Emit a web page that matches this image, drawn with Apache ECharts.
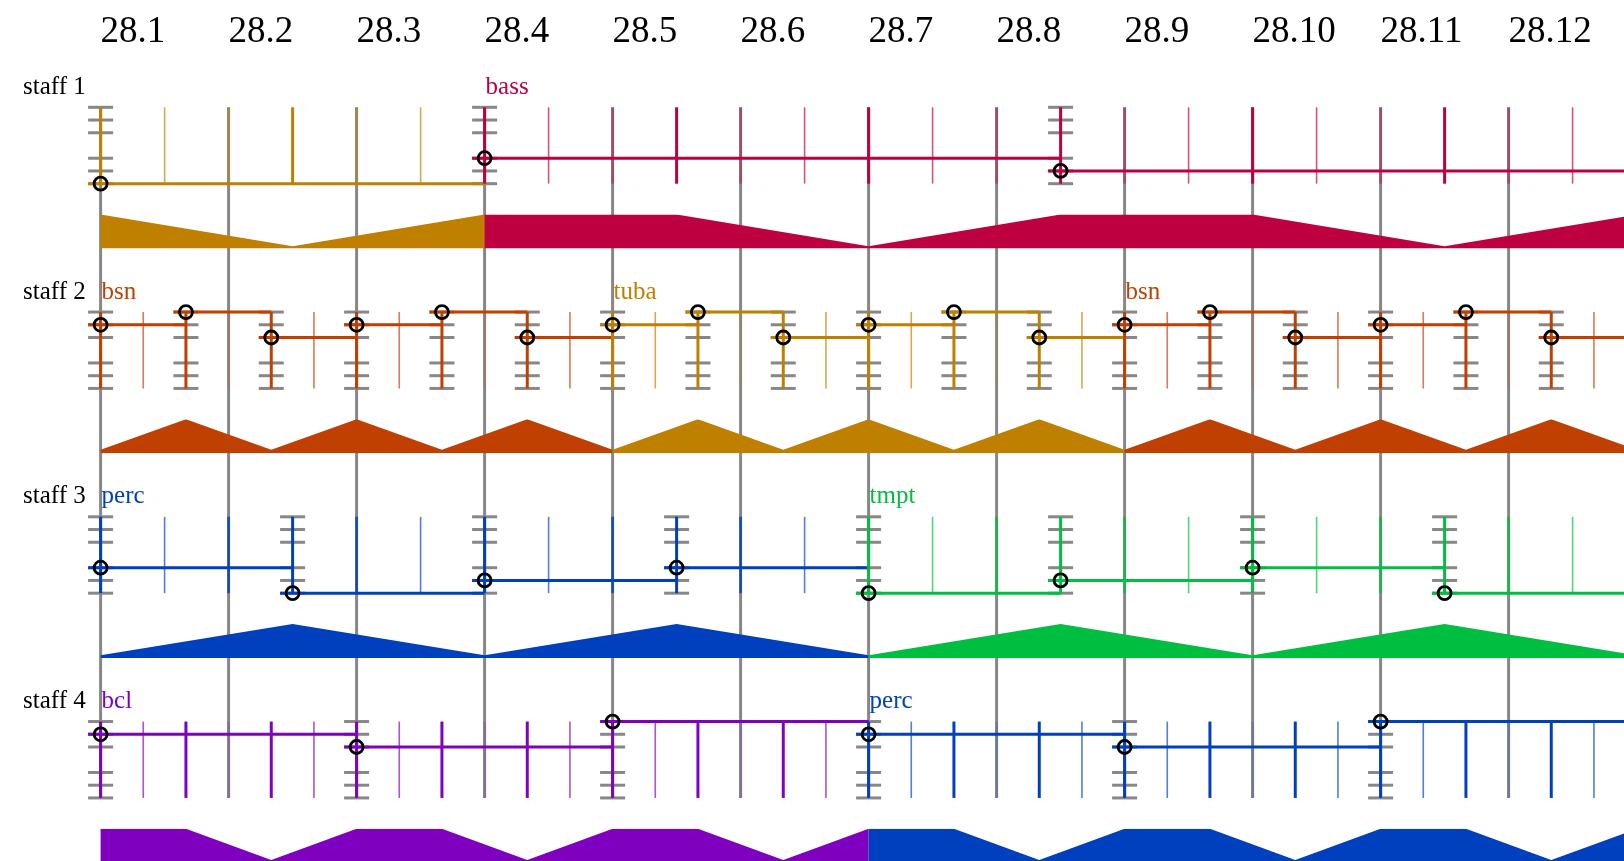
<!DOCTYPE html>
<html><head><meta charset="utf-8">
<script src="https://cdn.jsdelivr.net/npm/echarts@6/dist/echarts.min.js"></script>
<style>html,body{margin:0;padding:0;background:#fff}#c{width:1624px;height:861px}</style>
</head><body><div id="c"></div>
<script>
// ---------- data ----------
const tickLabels = ['28.1','28.2','28.3','28.4','28.5','28.6','28.7','28.8','28.9','28.10','28.11','28.12'];
const beatLines = [0,1,2,3,4,5,6,7,8,9,10,11];
const staffNames = ['staff 1','staff 2','staff 3','staff 4'];
const instNames = ['tuba','bass','bsn','perc','tmpt','bcl'];
const instColors = ['#BF8000','#BF0040','#BF4000','#0040BF','#00BF40','#8000BF'];
const ladderLevels = [0,1,2,4,5,6];
const scoreEnd = 12;

const staff1Onsets = [0, 3, 7.5];
const staff1Levels = [6, 4, 5];
const staff1Insts  = ['tuba','bass','bass'];
const staff1Labels = [[3,'bass']];
const staff1Env = [
  ['tuba', [[0,1],[1.5,0.06],[3,1]]],
  ['bass', [[3,1],[4.5,1],[6,0.06],[7.5,1],[9,1],[10.5,0.06],[12,1]]]
];

const staff2Onsets = [0,2/3,4/3,2,8/3,10/3,4,14/3,16/3,6,20/3,22/3,8,26/3,28/3,10,32/3,34/3];
const staff2Levels = [1,0,2,1,0,2,1,0,2,1,0,2,1,0,2,1,0,2];
const staff2Insts  = ['bsn','bsn','bsn','bsn','bsn','bsn','tuba','tuba','tuba','tuba','tuba','tuba','bsn','bsn','bsn','bsn','bsn','bsn'];
const staff2Labels = [[0,'bsn'],[4,'tuba'],[8,'bsn']];
const staff2Env = [
  ['bsn',  [[0,0.1],[2/3,1],[4/3,0.1],[2,1],[8/3,0.1],[10/3,1],[4,0.1]]],
  ['tuba', [[4,0.1],[14/3,1],[16/3,0.1],[6,1],[20/3,0.1],[22/3,1],[8,0.1]]],
  ['bsn',  [[8,0.1],[26/3,1],[28/3,0.1],[10,1],[32/3,0.1],[34/3,1],[12,0.1]]]
];

const staff3Onsets = [0,1.5,3,4.5,6,7.5,9,10.5];
const staff3Levels = [4,6,5,4,6,5,4,6];
const staff3Insts  = ['perc','perc','perc','perc','tmpt','tmpt','tmpt','tmpt'];
const staff3Labels = [[0,'perc'],[6,'tmpt']];
const staff3Env = [
  ['perc', [[0,0.08],[1.5,1],[3,0.08],[4.5,1],[6,0.08]]],
  ['tmpt', [[6,0.08],[7.5,1],[9,0.08],[10.5,1],[12,0.08]]]
];

const staff4Onsets = [0,2,4,6,8,10];
const staff4Levels = [1,2,0,1,2,0];
const staff4Insts  = ['bcl','bcl','bcl','perc','perc','perc'];
const staff4Labels = [[0,'bcl'],[6,'perc']];
const staff4Env = [
  ['bcl',  [[0,1],[2/3,1],[4/3,0.08],[2,1],[8/3,1],[10/3,0.08],[4,1],[14/3,1],[16/3,0.08],[6,1]]],
  ['perc', [[6,1],[20/3,1],[22/3,0.08],[8,1],[26/3,1],[28/3,0.08],[10,1],[32/3,1],[34/3,0.08],[12,1]]]
];

// subdivision step per staff (beats) and strong-group size (in steps)
const staffSteps  = [0.5, 1/3, 0.5, 1/3];
const staffGroups = [3, 0, 0, 2];

const staffs = [
  {onsets: staff1Onsets, levels: staff1Levels, insts: staff1Insts, labels: staff1Labels, env: staff1Env},
  {onsets: staff2Onsets, levels: staff2Levels, insts: staff2Insts, labels: staff2Labels, env: staff2Env},
  {onsets: staff3Onsets, levels: staff3Levels, insts: staff3Insts, labels: staff3Labels, env: staff3Env},
  {onsets: staff4Onsets, levels: staff4Levels, insts: staff4Insts, labels: staff4Labels, env: staff4Env}
];

// ---------- layout / style ----------
const LEFT = 100.6, BEAT = 128, W = 1624;
const XMAX = (W - LEFT) / BEAT;
const STAFF_TOP = 107.3, STAFF_GAP = 204.75, LEVEL_H = 12.73;
const ENV_OFF = 107.3, ENV_H = 33.8;
const GRAY = '#878787';
const FONT = '"Liberation Serif", "Times New Roman", serif';
const beatAlpha = [0.45, 0.15, 0.85, 0.2];

const grids = [], xAxes = [], yAxes = [];
function addGrid(top, height, ymax, inverse, showX) {
  const idx = grids.length;
  grids.push({left: LEFT, right: 0, top: top, height: height, outerBoundsMode: 'none', containLabel: false});
  xAxes.push({
    type: 'value', gridIndex: idx, min: 0, max: XMAX, interval: 1, show: !!showX, position: 'top',
    axisLine: {show: false}, axisTick: {show: false}, splitLine: {show: false},
    axisLabel: {
      show: !!showX, interval: 0, align: 'left', verticalAlign: 'middle', margin: 75.3,
      fontSize: 37, fontFamily: FONT, color: '#000',
      formatter: v => (Math.abs(v - Math.round(v)) < 1e-6 && tickLabels[Math.round(v)]) ? tickLabels[Math.round(v)] : ''
    }
  });
  yAxes.push({type: 'value', gridIndex: idx, min: 0, max: ymax, inverse: inverse, show: false});
  return idx;
}
const g0 = addGrid(STAFF_TOP, 3 * STAFF_GAP + 6 * LEVEL_H, 1, false, true);
const ladderGrid = [], envGrid = [];
for (let i = 0; i < 4; i++) ladderGrid.push(addGrid(STAFF_TOP + i * STAFF_GAP, 6 * LEVEL_H, 6, true, false));
for (let i = 0; i < 4; i++) envGrid.push(addGrid(STAFF_TOP + i * STAFF_GAP + ENV_OFF, ENV_H, 1, false, false));

const series = [];
// gray beat lines
series.push({
  type: 'custom', xAxisIndex: g0, yAxisIndex: g0, z: 1, silent: true, clip: false,
  data: beatLines.map(b => [b, 0]),
  renderItem: (p, api) => {
    const a = api.coord([api.value(0), 0]), b = api.coord([api.value(0), 1]);
    return {type: 'line', shape: {x1: a[0], y1: a[1], x2: b[0], y2: b[1]}, style: {stroke: GRAY, lineWidth: 3}};
  }
});

staffs.forEach((st, si) => {
  const gi = ladderGrid[si];
  const notes = st.onsets.map((o, j) => [o, j + 1 < st.onsets.length ? st.onsets[j + 1] : scoreEnd, st.levels[j], instNames.indexOf(st.insts[j])]);
  // subdivision lines
  const subs = [];
  notes.forEach(n => {
    const step = staffSteps[si], g = staffGroups[si];
    const cnt = Math.round((n[1] - n[0]) / step);
    for (let k = 1; k < cnt; k++) {
      const x = n[0] + k * step;
      let w = 1;
      if (g && k % g === 0) w = 3;
      else if (Math.abs(x - Math.round(x)) < 1e-6) w = 2;
      subs.push([x, w, n[3]]);
    }
  });
  // ladders
  series.push({
    type: 'custom', xAxisIndex: gi, yAxisIndex: gi, z: 2, silent: true, clip: false,
    data: st.onsets.map(o => [o, 0]),
    renderItem: (p, api) => {
      const x = api.coord([api.value(0), 0])[0];
      return {type: 'group', children: ladderLevels.map(l => {
        const y = api.coord([0, l])[1];
        return {type: 'line', shape: {x1: x - 12.5, y1: y, x2: x + 12.5, y2: y}, style: {stroke: GRAY, lineWidth: 3}};
      })};
    }
  });
  // subdivision lines
  series.push({
    type: 'custom', xAxisIndex: gi, yAxisIndex: gi, z: 3, silent: true, clip: false,
    data: subs,
    renderItem: (p, api) => {
      const x = api.coord([api.value(0), 0])[0];
      const y0 = api.coord([0, 0])[1], y1 = api.coord([0, 6])[1];
      const w = api.value(1);
      const col = instColors[api.value(2)];
      const lw = w === 3 ? 3 : (w === 2 ? 2.6 : 1.6);
      const op = w === 3 ? 1 : (w === 2 ? beatAlpha[si] : 0.68);
      return {type: 'line', shape: {x1: x, y1: y0, x2: x, y2: y1}, style: {stroke: col, lineWidth: lw, opacity: op}};
    }
  });
  // notes: horizontal line + onset stem
  series.push({
    type: 'custom', xAxisIndex: gi, yAxisIndex: gi, z: 5, silent: true, clip: false,
    data: notes,
    renderItem: (p, api) => {
      const col = instColors[api.value(3)];
      const a = api.coord([api.value(0), api.value(2)]);
      const b = api.coord([Math.min(api.value(1), XMAX + 0.1), api.value(2)]);
      const y0 = api.coord([0, 0])[1], y1 = api.coord([0, 6])[1];
      return {type: 'group', children: [
        {type: 'line', shape: {x1: a[0] - 12.5, y1: a[1], x2: b[0], y2: b[1]}, style: {stroke: col, lineWidth: 3}},
        {type: 'line', shape: {x1: a[0], y1: y0, x2: a[0], y2: y1}, style: {stroke: col, lineWidth: 3}}
      ]};
    }
  });
  // onset circles
  series.push({
    type: 'scatter', xAxisIndex: gi, yAxisIndex: gi, z: 7, silent: true,
    data: notes.map(n => [n[0], n[2]]),
    symbol: 'circle', symbolSize: 13,
    itemStyle: {color: 'rgba(0,0,0,0)', borderColor: '#000', borderWidth: 2.8, opacity: 1}
  });
  // instrument labels
  series.push({
    type: 'custom', xAxisIndex: gi, yAxisIndex: gi, z: 8, silent: true, clip: false,
    data: st.labels.map(l => [l[0], instNames.indexOf(l[1])]),
    renderItem: (p, api) => {
      const c = api.coord([api.value(0), 0]);
      const idx = api.value(1);
      return {type: 'text', x: c[0] + 1, y: c[1] - 20, style: {
        text: instNames[idx], fill: instColors[idx], fontSize: 25, fontFamily: FONT, align: 'left', verticalAlign: 'middle'}};
    }
  });
  // envelopes
  st.env.forEach(seg => {
    const col = instColors[instNames.indexOf(seg[0])];
    series.push({
      type: 'line', xAxisIndex: envGrid[si], yAxisIndex: envGrid[si], z: 3, silent: true,
      data: seg[1], symbol: 'none', showSymbol: false, smooth: false,
      lineStyle: {width: 0, color: col}, itemStyle: {color: col},
      areaStyle: {color: col, opacity: 1}
    });
  });
});

const graphic = staffNames.map((n, i) => ({
  type: 'text', x: 23, y: STAFF_TOP + i * STAFF_GAP - 20, silent: true,
  style: {text: n, fill: '#000', fontSize: 25, fontFamily: FONT, align: 'left', verticalAlign: 'middle'}
}));

const chart = echarts.init(document.getElementById('c'), null, {renderer: 'canvas'});
chart.setOption({
  animation: false,
  backgroundColor: '#fff',
  grid: grids, xAxis: xAxes, yAxis: yAxes,
  series: series,
  graphic: graphic
});
</script></body></html>
